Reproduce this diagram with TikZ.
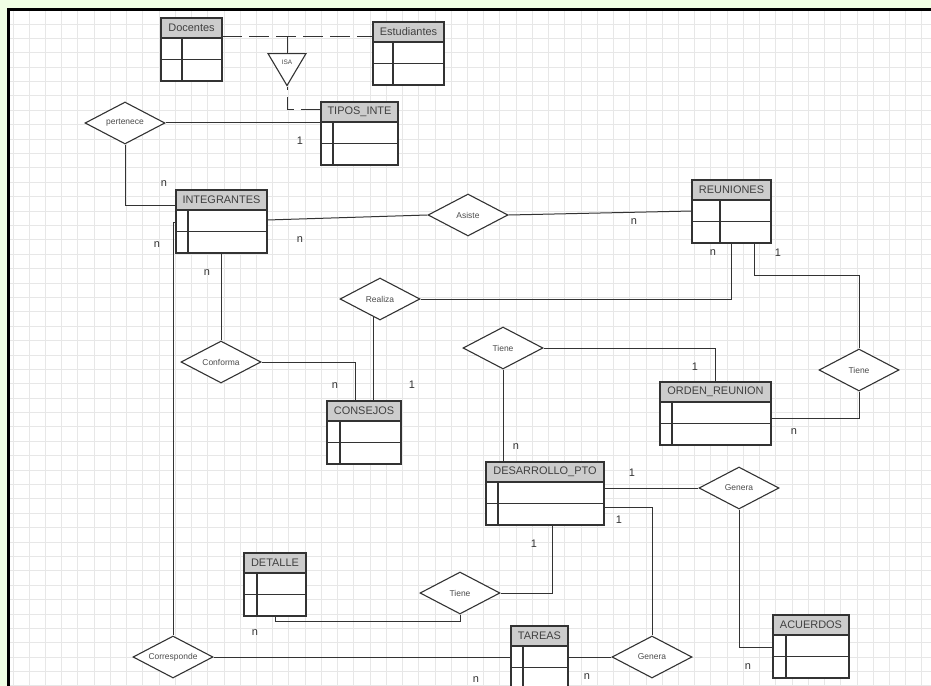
\documentclass[tikz,border=0pt]{standalone}
\usepackage{fontspec}
\setmainfont{Liberation Sans}
\usetikzlibrary{shapes.geometric, calc}

\definecolor{fondo}{RGB}{240,255,228}
\definecolor{cuadro}{RGB}{231,231,231}
\definecolor{cabecera}{RGB}{204,204,204}

%% tabla: nombre, x, y, ancho, ancho clave, titulo
\newcommand{\entidad}[6]{%
  \node[tabla, minimum width=#4bp, anchor=north west] (#1) at (#2,#3) {};
  \draw[borde, fill=cabecera] (#1.north west) rectangle ([yshift=-20bp]#1.north east);
  \node[titulo] (#1-t) at ([yshift=-10bp]#1.north) {#6};
  \draw[borde] ([yshift=-41.5bp]#1.north west) -- ([yshift=-41.5bp]#1.north east);
  \draw[borde] ([xshift=#5bp,yshift=-20bp]#1.north west) -- ([xshift=#5bp]#1.south west);
}
%% texto de relacion sin ancho, para que el rombo no crezca
\newcommand{\rtxt}[1]{\makebox[0pt]{#1}}

\begin{document}
\begin{tikzpicture}[
  x=1bp, y=-1bp,
  borde/.style={draw=black!80, line width=1.1bp},
  tabla/.style={
    rectangle, borde, fill=white,
    minimum height=63bp,
    inner sep=0pt, outer sep=0pt
  },
  titulo/.style={
    inner sep=0pt, text=black!75,
    font=\fontsize{11}{13}\selectfont
  },
  rel/.style={
    diamond, borde, fill=white,
    minimum width=80bp, minimum height=42bp,
    inner sep=0pt, text=black!70,
    font=\fontsize{8.5}{10}\selectfont
  },
  card/.style={
    inner sep=0pt, text=black!80,
    font=\fontsize{11}{13}\selectfont
  },
  linea/.style={draw=black!80, line width=1bp},
  isalinea/.style={linea, dash pattern=on 20bp off 7bp}
]

%% Fondo y cuadricula
\useasboundingbox (0,0) rectangle (931,686);
\clip (0,0) rectangle (931,686);
\fill[fondo] (0,0) rectangle (931,686);
\fill[white] (8,10) rectangle (931,686);
\foreach \i in {0,...,56}
  \draw[cuadro, line width=0.9bp] (13+\i*16.23,10) -- (13+\i*16.23,686);
\foreach \j in {0,...,46}
  \draw[cuadro, line width=0.9bp] (8,24+\j*14.39) -- (931,24+\j*14.39);
\draw[black, line width=3bp] (8,686) -- (8,10) -- (931,10);

%% Entidades
\entidad{docentes}{161}{18}{61}{21}{Docentes}
\entidad{estudiantes}{373}{22}{71}{20}{Estudiantes}
\entidad{tipos}{321}{102}{77}{12}{TIPOS\_INTE}
\entidad{integrantes}{176}{190}{91}{12}{INTEGRANTES}
\entidad{reuniones}{692}{180}{79}{28}{REUNIONES}
\entidad{orden}{660}{382}{111}{12}{ORDEN\_REUNION}
\entidad{consejos}{327}{401}{74}{13}{CONSEJOS}
\entidad{desarrollo}{486}{462}{118}{12}{DESARROLLO\_PTO}
\entidad{detalle}{244}{553}{62}{13}{DETALLE}
\entidad{acuerdos}{773}{615}{76}{13}{ACUERDOS}
\entidad{tareas}{511}{626}{57}{12}{TAREAS}

%% ISA
\node[isosceles triangle, borde, fill=white,
      shape border rotate=270, isosceles triangle stretches,
      minimum width=38bp, minimum height=32bp, inner sep=0pt,
      font=\fontsize{6.5}{7}\selectfont, text=black!70,
      anchor=north] (isa) at (287,53) {ISA};

%% Relaciones
\node[rel] (pertenece) at (125,123) {\rtxt{pertenece}};
\node[rel] (asiste) at (468,215) {\rtxt{Asiste}};
\node[rel] (realiza) at (380,299) {\rtxt{Realiza}};
\node[rel] (conforma) at (221,362) {\rtxt{Conforma}};
\node[rel] (tieneOrden) at (503,348) {\rtxt{Tiene}};
\node[rel] (tieneReun) at (859,370) {\rtxt{Tiene}};
\node[rel] (generaAcu) at (739,488) {\rtxt{Genera}};
\node[rel] (tieneDet) at (460,593) {\rtxt{Tiene}};
\node[rel] (corresponde) at (173,657) {\rtxt{Corresponde}};
\node[rel] (generaTar) at (652,657) {\rtxt{Genera}};

%% Conectores
\draw[isalinea] ([yshift=-19bp]docentes.north east) -- ([yshift=-19bp]docentes.north east -| estudiantes.west);
\draw[linea] ([yshift=-19bp]docentes.north east -| isa.north) -- (isa.north);
\draw[isalinea, dash phase=17bp] (isa.apex) |- ([yshift=-8bp]tipos.north west);

\draw[linea] (pertenece.east) -- (pertenece.east -| tipos.west);
\draw[linea] (pertenece.south) |- ([yshift=-15bp]integrantes.north west);
\draw[linea] ([yshift=-30bp]integrantes.north east) -- (asiste.west);
\draw[linea] (asiste.east) -- ([yshift=-31bp]reuniones.north west);
\draw[linea] ([yshift=-32bp]integrantes.north west) -| (corresponde.north);
\draw[linea] (corresponde.east) -- (corresponde.east -| tareas.west);
\draw[linea] (integrantes.south -| conforma.north) -- (conforma.north);
\draw[linea] (conforma.east) -| ([xshift=28bp]consejos.north west);
\draw[linea] (realiza.-110) -- (realiza.-110 |- consejos.north);
\draw[linea] (realiza.east) -| (reuniones.south);
\draw[linea] ([xshift=62bp]reuniones.south west) -- ++(0,32) -| (tieneReun.north);
\draw[linea] (tieneReun.south) |- ([yshift=-36bp]orden.north east);
\draw[linea] (tieneOrden.east) -| (orden.north);
\draw[linea] (tieneOrden.south) -- (tieneOrden.south |- desarrollo.north);
\draw[linea] (generaAcu.west -| desarrollo.east) -- (generaAcu.west);
\draw[linea] (generaAcu.south) |- ([yshift=-32bp]acuerdos.north west);
\draw[linea] ([yshift=-45bp]desarrollo.north east) -| (generaTar.north);
\draw[linea] (generaTar.west) -- (generaTar.west -| tareas.east);
\draw[linea] ([xshift=66bp]desarrollo.south west) |- (tieneDet.east);
\draw[linea] (tieneDet.south) -- ++(0,7) -| ([xshift=31bp]detalle.south west);

%% Cardinalidades
\node[card] (cTipos) at (300,141) {1};
\node[card] (cPert) at (164,184) {n};
\node[card] (cIntAs) at (300,240) {n};
\node[card] (cReuAs) at (634,222) {n};
\node[card] (cIntCor) at (157,245) {n};
\node[card] (cIntCon) at (207,273) {n};
\node[card] (cConCon) at (335,386) {n};
\node[card] (cConRea) at (412,385) {1};
\node[card] (cReuRea) at (713,253) {n};
\node[card] (cReuTie) at (778,253) {1};
\node[card] (cOrdTie) at (794,432) {n};
\node[card] (cOrdTO) at (695,367) {1};
\node[card] (cDesTO) at (516,447) {n};
\node[card] (cDesGA) at (632,473) {1};
\node[card] (cAcuGA) at (748,667) {n};
\node[card] (cDesGT) at (619,520) {1};
\node[card] (cTarGT) at (587,677) {n};
\node[card] (cDesTD) at (534,544) {1};
\node[card] (cDetTD) at (255,633) {n};
\node[card] (cTarCor) at (476,680) {n};

\end{tikzpicture}
\end{document}
